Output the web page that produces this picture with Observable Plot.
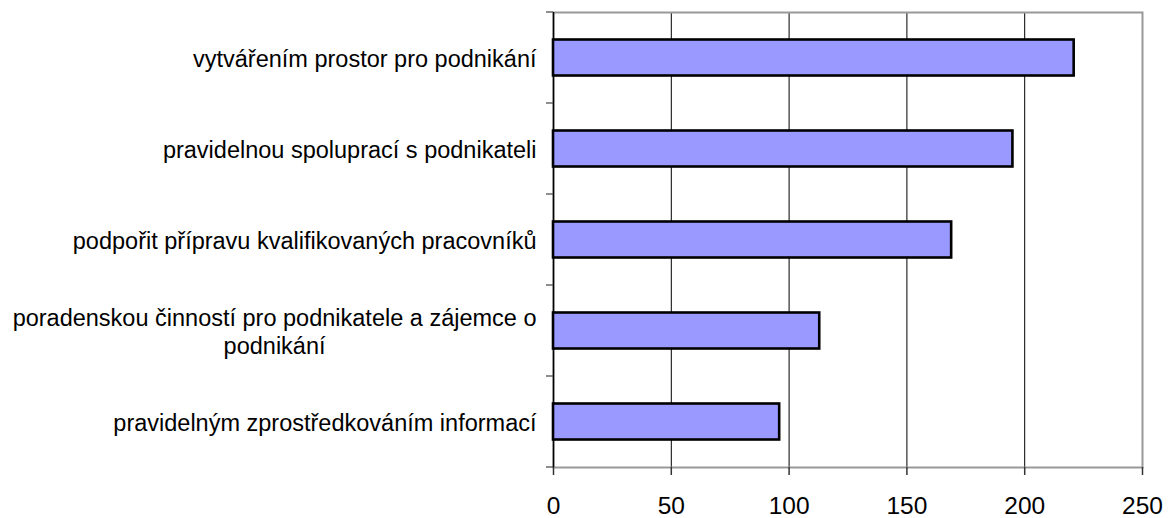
<!DOCTYPE html>
<html><head><meta charset="utf-8">
<script src="https://cdn.jsdelivr.net/npm/d3@7"></script>
<script src="https://cdn.jsdelivr.net/npm/@observablehq/plot@0.6"></script>
<style>body{margin:0;background:#fff} svg{display:block}</style>
</head><body><div id="chart"></div>
<script>
const categories = [
  "vytvářením prostor pro podnikání",
  "pravidelnou spoluprací s podnikateli",
  "podpořit přípravu kvalifikovaných pracovníků",
  "poradenskou činností pro podnikatele a zájemce o\npodnikání",
  "pravidelným zprostředkováním informací"
];
const values = [221, 195, 169, 113, 96];
const xTicks = [0, 50, 100, 150, 200, 250];
const gridTicks = [50, 100, 150, 200];

const data = categories.map((c, i) => ({category: c, value: values[i]}));

// small outward ticks on the category axis, at band boundaries
const boundaryTicks = (index, scales, vals, dims) => {
  const y = scales.y;
  const n = categories.length;
  const step = typeof y.step === "function" ? y.step() : (dims.height - dims.marginTop - dims.marginBottom) / n;
  const x0 = scales.x(0);
  const ys = categories.map(c => y(c));
  ys.push(y(categories[n - 1]) + step);
  const g = d3.create("svg:g");
  g.selectAll("line").data(ys).join("line")
    .attr("x1", x0 - 7).attr("x2", x0)
    .attr("y1", d => d).attr("y2", d => d)
    .attr("stroke", "#444").attr("stroke-width", 1.2);
  return g.node();
};

const chart = Plot.plot({
  width: 1175,
  height: 518,
  marginLeft: 553,
  marginRight: 33,
  marginTop: 12,
  marginBottom: 51,
  style: {fontFamily: "'Liberation Sans', Arial, sans-serif", background: "#fff", color: "#000"},
  x: {domain: [0, 250], label: null},
  y: {domain: categories, padding: 0, label: null},
  marks: [
    Plot.gridX(gridTicks, {stroke: "#000", strokeOpacity: 1, strokeWidth: 1}),
    Plot.frame({stroke: "#999", strokeWidth: 2}),
    Plot.ruleX([0], {stroke: "#000", strokeWidth: 1.5}),
    Plot.barX(data, {x: "value", y: "category", fill: "#9999ff", stroke: "#000", strokeWidth: 2.6, insetTop: 27.5, insetBottom: 27.5}),
    Plot.axisX({ticks: xTicks, tickSize: 8, tickPadding: 21, fontSize: 24.5, line: true, stroke: "#333", strokeWidth: 1.5, label: null}),
    Plot.axisY({tickSize: 0, tickPadding: 17, fontSize: 23.5, lineHeight: 1.2, label: null}),
    boundaryTicks
  ]
});
document.getElementById("chart").appendChild(chart);

// center the lines of wrapped category labels within their block (as in the original)
d3.select(chart).selectAll('g[aria-label="y-axis tick label"] text').each(function() {
  const spans = this.querySelectorAll("tspan");
  if (spans.length > 1) {
    let w = 0;
    spans.forEach(s => { w = Math.max(w, s.getComputedTextLength()); });
    this.setAttribute("text-anchor", "middle");
    spans.forEach(s => {
      const x0 = +(s.getAttribute("x") || 0);
      s.setAttribute("x", x0 - w / 2);
    });
  }
});
</script>
</body></html>
